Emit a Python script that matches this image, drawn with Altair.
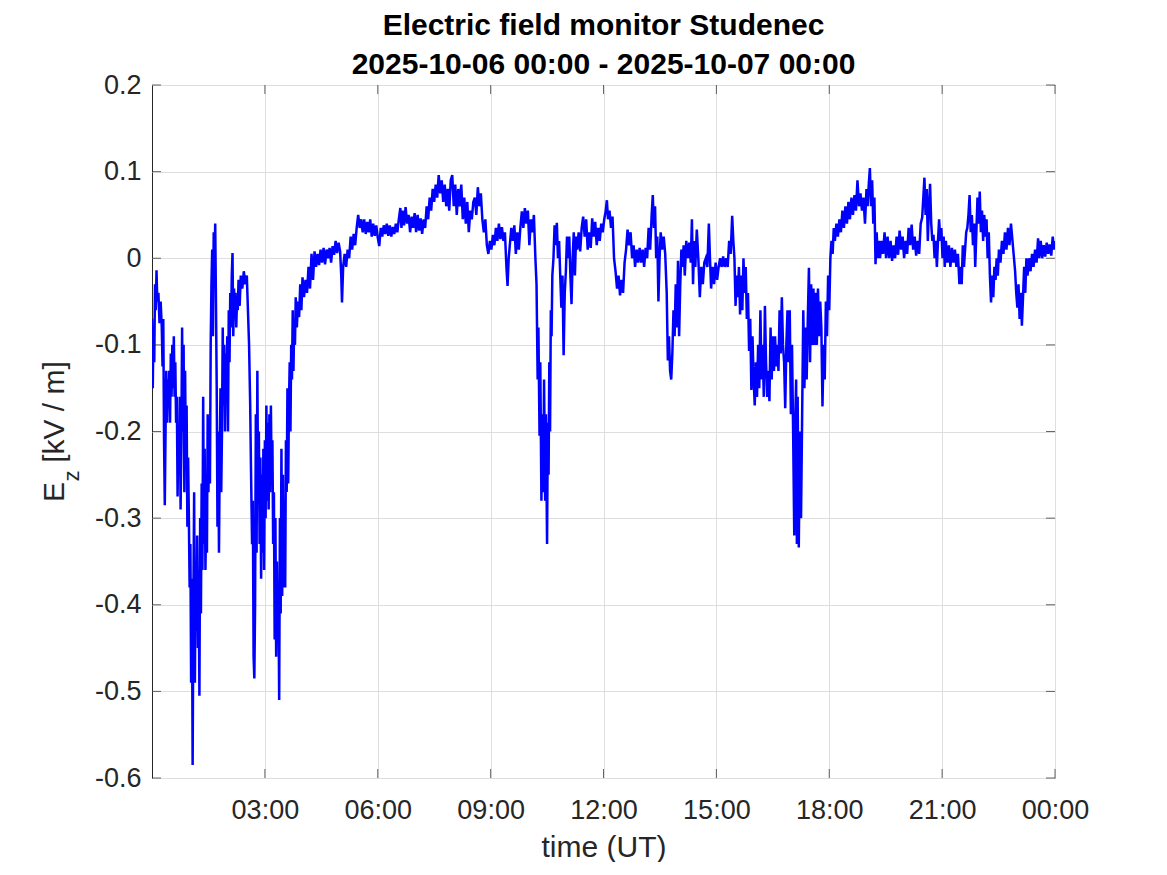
import altair as alt
import pandas as pd

TITLE_LINE_1 = "Electric field monitor Studenec"
TITLE_LINE_2 = "2025-10-06 00:00 - 2025-10-07 00:00"
X_TITLE = "time (UT)"
Y_TITLE_MAIN = "E"
Y_TITLE_SUB = "z"
Y_TITLE_UNIT = "[kV / m]"

X_TICKS = [3, 6, 9, 12, 15, 18, 21, 24]
X_TICK_LABELS = ["03:00", "06:00", "09:00", "12:00", "15:00", "18:00", "21:00", "00:00"]
Y_TICKS = [-0.6, -0.5, -0.4, -0.3, -0.2, -0.1, 0.0, 0.1, 0.2]
Y_TICK_LABELS = ["-0.6", "-0.5", "-0.4", "-0.3", "-0.2", "-0.1", "0", "0.1", "0.2"]

# (hour UT, Ez in kV/m)
SEG_00_03 = [(0.00,-0.070),(0.02,-0.150),(0.04,-0.080),(0.06,-0.120),(0.08,-0.030),(0.10,-0.060),(0.12,-0.014),(0.14,-0.050),(0.17,-0.040),(0.20,-0.075),(0.23,-0.050),(0.26,-0.080),(0.28,-0.125),(0.30,-0.070),(0.32,-0.210),(0.34,-0.285),(0.36,-0.200),(0.38,-0.130),(0.40,-0.190),(0.42,-0.140),(0.44,-0.170),(0.46,-0.130),(0.48,-0.190),(0.50,-0.110),(0.52,-0.160),(0.54,-0.100),(0.56,-0.150),(0.58,-0.090),(0.60,-0.160),(0.62,-0.120),(0.64,-0.190),(0.66,-0.160),(0.68,-0.275),(0.70,-0.200),(0.72,-0.250),(0.74,-0.160),(0.76,-0.290),(0.78,-0.210),(0.80,-0.080),(0.82,-0.200),(0.84,-0.100),(0.86,-0.270),(0.88,-0.130),(0.90,-0.240),(0.92,-0.170),(0.94,-0.310),(0.96,-0.230),(0.98,-0.300),(1.00,-0.380),(1.02,-0.330),(1.04,-0.490),(1.06,-0.370),(1.08,-0.585),(1.10,-0.400),(1.12,-0.270),(1.14,-0.490),(1.16,-0.350),(1.18,-0.430),(1.20,-0.320),(1.22,-0.450),(1.24,-0.360),(1.26,-0.505),(1.28,-0.300),(1.30,-0.410),(1.32,-0.260),(1.34,-0.360),(1.36,-0.160),(1.38,-0.330),(1.40,-0.220),(1.42,-0.360),(1.44,-0.300),(1.46,-0.340),(1.48,-0.180),(1.50,-0.270),(1.52,-0.200),(1.54,-0.260),(1.56,-0.100),(1.58,-0.030),(1.60,0.010),(1.62,-0.090),(1.64,0.030),(1.66,-0.020),(1.68,0.040),(1.70,-0.050),(1.72,-0.150),(1.74,-0.310),(1.76,-0.200),(1.78,-0.340),(1.80,-0.230),(1.82,-0.150),(1.84,-0.270),(1.86,-0.200),(1.88,-0.080),(1.90,-0.170),(1.92,-0.100),(1.94,-0.200),(1.96,-0.110),(1.98,-0.160),(2.00,-0.090),(2.02,-0.200),(2.04,-0.060),(2.06,-0.120),(2.08,-0.040),(2.10,-0.080),(2.12,-0.020),(2.14,0.006),(2.16,-0.090),(2.18,-0.035),(2.20,-0.060),(2.22,-0.040),(2.24,-0.080),(2.26,-0.045),(2.28,-0.060),(2.30,-0.025),(2.33,-0.055),(2.36,-0.020),(2.40,-0.035),(2.44,-0.015),(2.48,-0.030),(2.52,-0.020),(2.55,-0.060),(2.58,-0.100),(2.61,-0.170),(2.63,-0.240),(2.66,-0.330),(2.68,-0.280),(2.70,-0.460),(2.72,-0.485),(2.74,-0.400),(2.76,-0.180),(2.78,-0.340),(2.80,-0.130),(2.82,-0.270),(2.84,-0.200),(2.86,-0.330),(2.88,-0.230),(2.90,-0.370),(2.92,-0.250),(2.94,-0.340),(2.96,-0.220),(2.98,-0.360)]
SEG_03_06 = [(3.00,-0.210),(3.02,-0.300),(3.04,-0.170),(3.06,-0.280),(3.08,-0.190),(3.10,-0.290),(3.12,-0.180),(3.14,-0.270),(3.16,-0.170),(3.18,-0.260),(3.20,-0.210),(3.22,-0.330),(3.24,-0.270),(3.26,-0.440),(3.28,-0.300),(3.30,-0.460),(3.32,-0.350),(3.34,-0.430),(3.36,-0.380),(3.38,-0.510),(3.40,-0.300),(3.42,-0.410),(3.44,-0.220),(3.46,-0.390),(3.48,-0.250),(3.50,-0.380),(3.52,-0.280),(3.54,-0.380),(3.56,-0.210),(3.58,-0.270),(3.60,-0.150),(3.62,-0.260),(3.64,-0.170),(3.66,-0.120),(3.68,-0.200),(3.70,-0.100),(3.72,-0.140),(3.74,-0.060),(3.76,-0.130),(3.78,-0.070),(3.80,-0.100),(3.82,-0.045),(3.85,-0.080),(3.88,-0.050),(3.91,-0.068),(3.94,-0.030),(3.97,-0.060),(4.00,-0.022),(4.04,-0.045),(4.08,-0.025),(4.12,-0.040),(4.16,-0.010),(4.20,-0.035),(4.24,0.005),(4.28,-0.025),(4.32,0.008),(4.36,-0.010),(4.40,0.005),(4.44,-0.008),(4.48,0.010),(4.52,-0.005),(4.56,0.012),(4.60,-0.007),(4.64,0.010),(4.68,0.000),(4.72,0.012),(4.76,-0.005),(4.80,0.014),(4.84,0.004),(4.88,0.020),(4.92,0.006),(4.96,0.018),(5.00,0.008),(5.03,-0.020),(5.05,-0.051),(5.08,-0.010),(5.12,0.005),(5.16,-0.010),(5.20,0.010),(5.24,0.000),(5.28,0.025),(5.32,0.010),(5.36,0.028),(5.40,0.015),(5.44,0.035),(5.48,0.050),(5.52,0.035),(5.56,0.045),(5.60,0.030),(5.64,0.045),(5.68,0.028),(5.72,0.042),(5.76,0.030),(5.80,0.045),(5.84,0.025),(5.88,0.040),(5.92,0.026),(5.96,0.038)]
SEG_06_09 = [(6.00,0.024),(6.04,0.014),(6.08,0.035),(6.12,0.025),(6.16,0.038),(6.20,0.028),(6.24,0.040),(6.28,0.026),(6.32,0.038),(6.36,0.025),(6.40,0.036),(6.44,0.028),(6.48,0.040),(6.52,0.030),(6.56,0.045),(6.60,0.058),(6.63,0.035),(6.66,0.055),(6.70,0.038),(6.74,0.059),(6.78,0.040),(6.82,0.050),(6.86,0.030),(6.90,0.048),(6.94,0.035),(6.98,0.052),(7.02,0.030),(7.06,0.050),(7.10,0.032),(7.14,0.046),(7.18,0.028),(7.22,0.045),(7.26,0.035),(7.30,0.060),(7.34,0.045),(7.38,0.070),(7.42,0.055),(7.46,0.080),(7.50,0.065),(7.54,0.085),(7.58,0.070),(7.62,0.096),(7.66,0.075),(7.70,0.090),(7.74,0.065),(7.78,0.085),(7.82,0.060),(7.86,0.080),(7.90,0.055),(7.94,0.090),(7.98,0.096),(8.02,0.060),(8.06,0.085),(8.10,0.050),(8.14,0.080),(8.18,0.060),(8.22,0.085),(8.26,0.045),(8.30,0.070),(8.34,0.040),(8.38,0.065),(8.42,0.030),(8.46,0.055),(8.50,0.045),(8.54,0.065),(8.58,0.070),(8.62,0.050),(8.66,0.082),(8.70,0.060),(8.74,0.075),(8.78,0.045),(8.82,0.030),(8.86,0.045),(8.90,0.015),(8.94,0.005),(8.98,0.020)]
SEG_09_12 = [(9.02,0.010),(9.06,0.027),(9.10,0.015),(9.14,0.035),(9.18,0.020),(9.22,0.040),(9.26,0.022),(9.30,0.036),(9.34,0.020),(9.38,0.030),(9.42,-0.010),(9.45,-0.032),(9.48,0.000),(9.51,0.015),(9.55,0.035),(9.59,0.020),(9.63,0.038),(9.67,0.005),(9.71,0.030),(9.75,0.010),(9.79,0.035),(9.83,0.054),(9.87,0.035),(9.91,0.058),(9.95,0.040),(9.99,0.055),(10.03,0.015),(10.07,0.045),(10.11,0.030),(10.15,0.050),(10.19,0.000),(10.22,-0.030),(10.25,-0.140),(10.27,-0.080),(10.30,-0.205),(10.32,-0.120),(10.35,-0.280),(10.37,-0.180),(10.40,-0.270),(10.42,-0.140),(10.45,-0.280),(10.47,-0.180),(10.50,-0.330),(10.52,-0.190),(10.54,-0.250),(10.56,-0.120),(10.58,-0.200),(10.60,-0.060),(10.62,-0.090),(10.64,-0.020),(10.67,0.000),(10.70,0.038),(10.73,0.015),(10.76,0.041),(10.79,0.000),(10.82,0.020),(10.85,-0.020),(10.88,-0.057),(10.91,-0.020),(10.94,-0.112),(10.97,-0.040),(11.00,-0.015),(11.03,0.025),(11.06,0.000),(11.09,0.025),(11.12,-0.020),(11.15,-0.053),(11.18,0.000),(11.21,0.030),(11.24,-0.020),(11.27,0.025),(11.30,0.010),(11.34,0.030),(11.38,0.008),(11.42,0.035),(11.46,0.048),(11.50,0.025),(11.54,0.045),(11.58,0.010),(11.62,0.030),(11.66,0.012),(11.70,0.046),(11.74,0.025),(11.78,0.042),(11.82,0.015),(11.86,0.035),(11.90,0.020),(11.94,0.040),(11.98,0.030)]
SEG_12_15 = [(12.02,0.045),(12.06,0.055),(12.09,0.067),(12.12,0.045),(12.16,0.055),(12.20,0.035),(12.24,0.048),(12.28,0.000),(12.32,-0.015),(12.36,-0.035),(12.40,-0.020),(12.44,-0.043),(12.48,-0.025),(12.52,-0.040),(12.56,-0.005),(12.60,0.010),(12.64,0.033),(12.68,0.015),(12.72,0.030),(12.76,0.000),(12.80,0.015),(12.84,-0.010),(12.88,0.010),(12.92,-0.005),(12.96,0.012),(13.00,-0.005),(13.04,0.010),(13.08,-0.010),(13.12,0.012),(13.16,0.000),(13.20,0.035),(13.24,0.010),(13.28,0.050),(13.31,0.073),(13.34,0.035),(13.37,0.060),(13.40,0.000),(13.43,0.025),(13.46,-0.050),(13.49,0.000),(13.52,0.030),(13.56,0.010),(13.60,0.025),(13.64,0.005),(13.68,-0.040),(13.71,-0.118),(13.74,-0.090),(13.77,-0.130),(13.80,-0.140),(13.83,-0.110),(13.86,-0.060),(13.89,-0.090),(13.92,-0.030),(13.95,-0.080),(13.98,-0.003),(14.01,-0.090),(14.04,-0.030),(14.07,0.010),(14.10,-0.010),(14.13,0.015),(14.16,-0.020),(14.20,0.020),(14.24,0.000),(14.28,0.018),(14.32,-0.005),(14.35,0.045),(14.38,-0.030),(14.41,0.020),(14.44,-0.010),(14.48,0.033),(14.52,0.000),(14.56,-0.045),(14.60,-0.010),(14.64,-0.030),(14.68,-0.005),(14.72,0.000),(14.76,-0.010),(14.80,0.040),(14.83,0.000),(14.86,-0.035),(14.90,-0.010),(14.94,-0.030),(14.98,-0.005)]
SEG_15_18 = [(15.02,-0.025),(15.06,-0.010),(15.10,0.000),(15.14,-0.010),(15.18,0.002),(15.22,-0.010),(15.26,0.000),(15.30,-0.010),(15.34,0.020),(15.38,0.005),(15.42,0.049),(15.45,0.020),(15.48,0.000),(15.51,-0.055),(15.54,-0.020),(15.57,-0.045),(15.60,-0.010),(15.63,-0.065),(15.66,-0.020),(15.69,-0.060),(15.72,0.000),(15.75,-0.040),(15.78,-0.010),(15.81,-0.070),(15.84,-0.040),(15.87,-0.107),(15.90,-0.070),(15.93,-0.152),(15.96,-0.090),(15.99,-0.140),(16.02,-0.170),(16.05,-0.120),(16.08,-0.160),(16.11,-0.100),(16.14,-0.150),(16.17,-0.060),(16.20,-0.140),(16.23,-0.100),(16.26,-0.160),(16.29,-0.055),(16.32,-0.120),(16.35,-0.160),(16.38,-0.130),(16.41,-0.165),(16.44,-0.080),(16.47,-0.140),(16.50,-0.090),(16.53,-0.130),(16.56,-0.090),(16.59,-0.125),(16.62,-0.100),(16.65,-0.130),(16.68,-0.060),(16.71,-0.110),(16.74,-0.045),(16.77,-0.100),(16.80,-0.120),(16.83,-0.173),(16.86,-0.100),(16.89,-0.060),(16.92,-0.120),(16.95,-0.060),(16.98,-0.180),(17.01,-0.100),(17.04,-0.200),(17.07,-0.320),(17.10,-0.180),(17.12,-0.140),(17.14,-0.330),(17.16,-0.160),(17.19,-0.334),(17.22,-0.200),(17.25,-0.300),(17.28,-0.180),(17.31,-0.060),(17.34,-0.150),(17.37,-0.080),(17.40,-0.140),(17.43,-0.070),(17.46,-0.011),(17.49,-0.120),(17.52,-0.030),(17.55,-0.100),(17.58,-0.035),(17.61,-0.100),(17.64,-0.040),(17.67,-0.100),(17.70,-0.035),(17.73,-0.090),(17.76,-0.050),(17.79,-0.080),(17.82,-0.171),(17.85,-0.100),(17.88,-0.140),(17.91,-0.050),(17.94,-0.090),(17.97,-0.020)]
SEG_18_21 = [(18.00,-0.060),(18.03,0.000),(18.06,0.020),(18.09,0.005),(18.12,0.035),(18.15,0.020),(18.19,0.040),(18.23,0.025),(18.27,0.045),(18.31,0.030),(18.35,0.055),(18.39,0.035),(18.43,0.060),(18.47,0.040),(18.51,0.065),(18.55,0.045),(18.59,0.070),(18.63,0.050),(18.67,0.073),(18.71,0.055),(18.75,0.090),(18.79,0.060),(18.83,0.075),(18.87,0.055),(18.91,0.070),(18.95,0.040),(18.99,0.080),(19.02,0.060),(19.05,0.085),(19.08,0.104),(19.11,0.060),(19.14,0.090),(19.17,0.040),(19.20,0.070),(19.23,-0.007),(19.26,0.030),(19.29,0.000),(19.32,0.020),(19.35,0.000),(19.39,0.020),(19.43,0.005),(19.47,0.030),(19.51,0.000),(19.55,0.025),(19.59,0.000),(19.63,0.020),(19.67,-0.003),(19.71,0.015),(19.75,0.000),(19.79,0.025),(19.83,0.004),(19.87,0.032),(19.91,0.010),(19.95,0.025),(19.99,0.000),(20.03,0.020),(20.07,0.005),(20.11,0.035),(20.15,0.015),(20.19,0.039),(20.23,0.010),(20.27,0.025),(20.31,0.003),(20.35,0.020),(20.39,0.005),(20.43,0.040),(20.47,0.047),(20.50,0.070),(20.53,0.093),(20.56,0.050),(20.59,0.080),(20.62,0.020),(20.65,0.060),(20.68,0.086),(20.71,0.040),(20.74,0.020),(20.77,0.027),(20.80,0.000),(20.83,0.020),(20.86,-0.010),(20.89,0.020),(20.92,0.045),(20.95,0.020),(20.98,0.035)]
SEG_21_24 = [(21.01,0.000),(21.04,0.025),(21.07,-0.010),(21.10,0.020),(21.14,-0.005),(21.18,0.015),(21.22,-0.010),(21.26,0.012),(21.30,-0.005),(21.34,0.010),(21.38,-0.010),(21.42,0.005),(21.46,-0.030),(21.49,-0.010),(21.52,-0.030),(21.55,0.015),(21.58,-0.010),(21.61,0.010),(21.64,0.030),(21.67,0.035),(21.70,0.050),(21.73,0.073),(21.76,0.030),(21.79,0.050),(21.82,0.015),(21.85,0.040),(21.88,-0.010),(21.91,0.030),(21.94,0.070),(21.97,0.040),(22.00,0.077),(22.03,0.030),(22.06,0.055),(22.09,0.020),(22.12,0.050),(22.15,0.025),(22.18,0.045),(22.21,0.000),(22.24,0.030),(22.27,-0.020),(22.30,-0.051),(22.33,-0.020),(22.36,-0.045),(22.39,-0.010),(22.42,-0.025),(22.45,0.000),(22.48,-0.020),(22.51,0.010),(22.55,-0.005),(22.59,0.020),(22.63,0.005),(22.67,0.030),(22.71,0.010),(22.75,0.035),(22.79,0.015),(22.83,0.040),(22.87,0.020),(22.91,0.000),(22.94,-0.015),(22.97,-0.040),(23.00,-0.057),(23.03,-0.030),(23.06,-0.070),(23.09,-0.040),(23.12,-0.078),(23.15,-0.045),(23.18,-0.010),(23.21,-0.040),(23.24,0.000),(23.27,-0.020),(23.31,0.000),(23.35,-0.015),(23.39,0.005),(23.43,-0.010),(23.47,0.010),(23.51,-0.005),(23.55,0.023),(23.58,0.000),(23.62,0.020),(23.66,0.000),(23.70,0.015),(23.74,0.002),(23.78,0.018),(23.82,0.005),(23.86,0.016),(23.90,0.003),(23.94,0.025),(23.97,0.010),(24.00,0.020)]

segments = [SEG_00_03, SEG_03_06, SEG_06_09, SEG_09_12, SEG_12_15, SEG_15_18, SEG_18_21, SEG_21_24]
rows = [p for seg in segments for p in seg]
df = pd.DataFrame(rows, columns=["hour", "ez"])

FONT = "Liberation Sans"
TEXT_COLOR = "#262626"
W, H = 903, 693


def label_expr(values, labels):
    expr = "''"
    for v, lab in zip(values, labels):
        expr = f"abs(datum.value - ({v})) < 1e-6 ? '{lab}' : ({expr})"
    return expr


x_scale = alt.Scale(domain=[0, 24], nice=False, zero=False)
y_scale = alt.Scale(domain=[-0.6, 0.2], nice=False, zero=False)

x_axis = alt.Axis(
    values=X_TICKS, labelExpr=label_expr(X_TICKS, X_TICK_LABELS),
    title=X_TITLE, titleFont=FONT, titleFontSize=30, titleFontWeight="normal",
    titleColor=TEXT_COLOR, titleBaseline="alphabetic", titleY=78, titleX=W / 2,
    titleAnchor="middle",
    labelFont=FONT, labelFontSize=27, labelColor=TEXT_COLOR, labelPadding=19,
    labelFlush=False, labelOverlap=False,
    ticks=False, tickSize=0, domain=False,
    grid=True, gridColor="#dedede", gridWidth=1,
)
y_axis = alt.Axis(
    values=Y_TICKS, labelExpr=label_expr(Y_TICKS, Y_TICK_LABELS),
    title=None,
    labelFont=FONT, labelFontSize=27, labelColor=TEXT_COLOR, labelPadding=11,
    labelFlush=False, labelOverlap=False,
    ticks=False, tickSize=0, domain=False,
    grid=True, gridColor="#dedede", gridWidth=1,
)

line = alt.Chart(df).mark_line(color="#0000ff", strokeWidth=2.5, clip=True).encode(
    x=alt.X("hour:Q", scale=x_scale, axis=x_axis),
    y=alt.Y("ez:Q", scale=y_scale, axis=y_axis),
)

ytick_df = pd.DataFrame({"hour": [12] * len(Y_TICKS), "ez": Y_TICKS})
xtick_df = pd.DataFrame({"hour": X_TICKS, "ez": [0.0] * len(X_TICKS)})

tick_style = dict(color=TEXT_COLOR, thickness=1, size=9)
left_ticks = alt.Chart(ytick_df).mark_tick(orient="horizontal", **tick_style).encode(
    y=alt.Y("ez:Q", scale=y_scale, axis=y_axis), x=alt.value(4.5))
right_ticks = alt.Chart(ytick_df).mark_tick(orient="horizontal", **tick_style).encode(
    y=alt.Y("ez:Q", scale=y_scale, axis=y_axis), x=alt.value(W - 4.5))
bottom_ticks = alt.Chart(xtick_df).mark_tick(orient="vertical", **tick_style).encode(
    x=alt.X("hour:Q", scale=x_scale, axis=x_axis), y=alt.value(H - 4.5))
top_ticks = alt.Chart(xtick_df).mark_tick(orient="vertical", **tick_style).encode(
    x=alt.X("hour:Q", scale=x_scale, axis=x_axis), y=alt.value(4.5))


def text_layer(txt, x, y, size, weight="normal", angle=0, color=TEXT_COLOR, align="center"):
    return alt.Chart(pd.DataFrame({"label": [txt]})).mark_text(
        font=FONT, fontSize=size, fontWeight=weight, angle=angle, color=color,
        align=align, baseline="alphabetic",
    ).encode(text="label:N", x=alt.value(x), y=alt.value(y))


title1 = text_layer(TITLE_LINE_1, W / 2, -50, 30, weight="bold", color="#000000")
title2 = text_layer(TITLE_LINE_2, W / 2, -11, 30, weight="bold", color="#000000")
ylab_e = text_layer(Y_TITLE_MAIN, -88, 407, 30, angle=270)
ylab_z = text_layer(Y_TITLE_SUB, -73, 391, 22, angle=270)
ylab_u = text_layer(Y_TITLE_UNIT, -88, 327, 30, angle=270)

chart = alt.layer(
    line, left_ticks, right_ticks, bottom_ticks, top_ticks,
    title1, title2, ylab_e, ylab_z, ylab_u,
).properties(
    width=W, height=H,
    autosize=alt.AutoSizeParams(type="none"),
    padding={"left": 144, "top": 77, "right": 90, "bottom": 84},
    background="white",
).configure_view(stroke=TEXT_COLOR, strokeWidth=1)

chart.save("out.html", embed_options={"renderer": "svg", "actions": False})
